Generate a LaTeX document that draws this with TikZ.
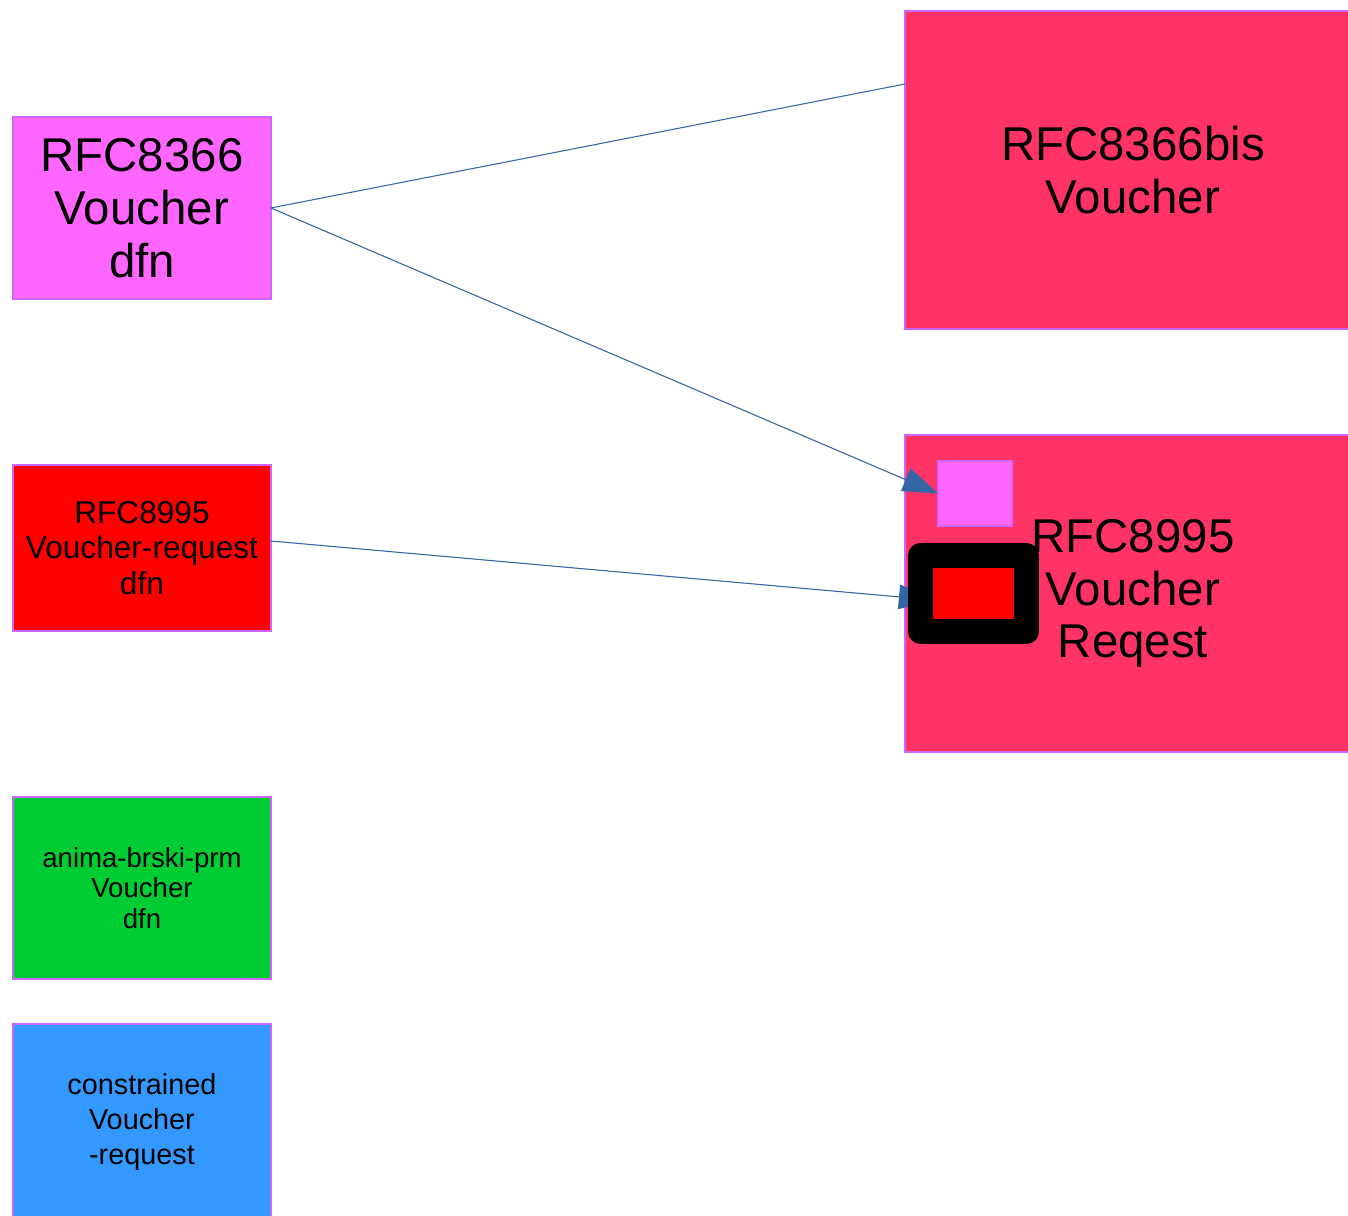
\documentclass[tikz,border=0pt]{standalone}
\usepackage{fontspec}
\setmainfont{Liberation Sans}
\usetikzlibrary{arrows.meta}
\definecolor{lilac}{HTML}{CC66FF}
\definecolor{pinkfill}{HTML}{FF66FF}
\definecolor{rosefill}{HTML}{FF3366}
\definecolor{greenfill}{HTML}{00CC33}
\definecolor{bluefill}{HTML}{3399FF}
\definecolor{linkblue}{HTML}{3465A4}
\tikzset{
    docbox/.style={draw=lilac, line width=1.2pt, anchor=north west,
        inner sep=0pt, outer sep=0pt, align=center},
    link/.style={draw=linkblue, line width=0.6pt},
    tip/.style={-{Triangle[length=20pt,width=14pt]}, fill=linkblue},
}
\begin{document}
\begin{tikzpicture}[x=0.02cm, y=-0.02cm]
    \useasboundingbox (0,0) rectangle (1348,1216);
    % left column
    \node[docbox, fill=pinkfill, minimum width=5.16cm, minimum height=3.64cm,
        font=\fontsize{27}{30}\selectfont] (v8366) at (13,117) {RFC8366\\Voucher\\dfn};
    \node[docbox, fill=red, minimum width=5.16cm, minimum height=3.32cm,
        font=\fontsize{18}{20.4}\selectfont] (vr8995) at (13,465) {RFC8995\\Voucher-request\\dfn};
    \node[docbox, fill=greenfill, minimum width=5.16cm, minimum height=3.64cm,
        font=\fontsize{15.7}{17.3}\selectfont] (prm) at (13,797) {anima-brski-prm\\Voucher\\dfn};
    \node[docbox, fill=bluefill, minimum width=5.16cm, minimum height=3.92cm,
        font=\fontsize{16.4}{19.8}\selectfont] (cvr) at (13,1024) {constrained\\Voucher\\-request};
    % right column
    \node[docbox, fill=rosefill, minimum width=9.12cm, minimum height=6.36cm,
        font=\fontsize{27}{30}\selectfont] (bis) at (905,11) {RFC8366bis\\Voucher};
    \node[docbox, fill=rosefill, minimum width=9.12cm, minimum height=6.34cm,
        font=\fontsize{27}{30}\selectfont] (req) at (905,435) {RFC8995\\Voucher\\Reqest};
    \node[docbox, fill=pinkfill, minimum width=1.48cm, minimum height=1.3cm] (mini) at (938,461) {};
    \coordinate (bisIn) at (905,84);
    \coordinate (reqIn) at (934,600);
    % links
    \draw[link] (v8366.east) -- (bisIn);
    \draw[link, tip] (v8366.east) -- (mini.west);
    \draw[link, tip] ([yshift=0.14cm]vr8995.east) -- (reqIn);
    % marker over the second tip
    \node[draw=black, fill=red, line width=14.2pt, line join=round, inner sep=0pt,
        minimum width=2.12cm, minimum height=1.52cm] (mark) at (973.5,593.5) {};
\end{tikzpicture}
\end{document}
